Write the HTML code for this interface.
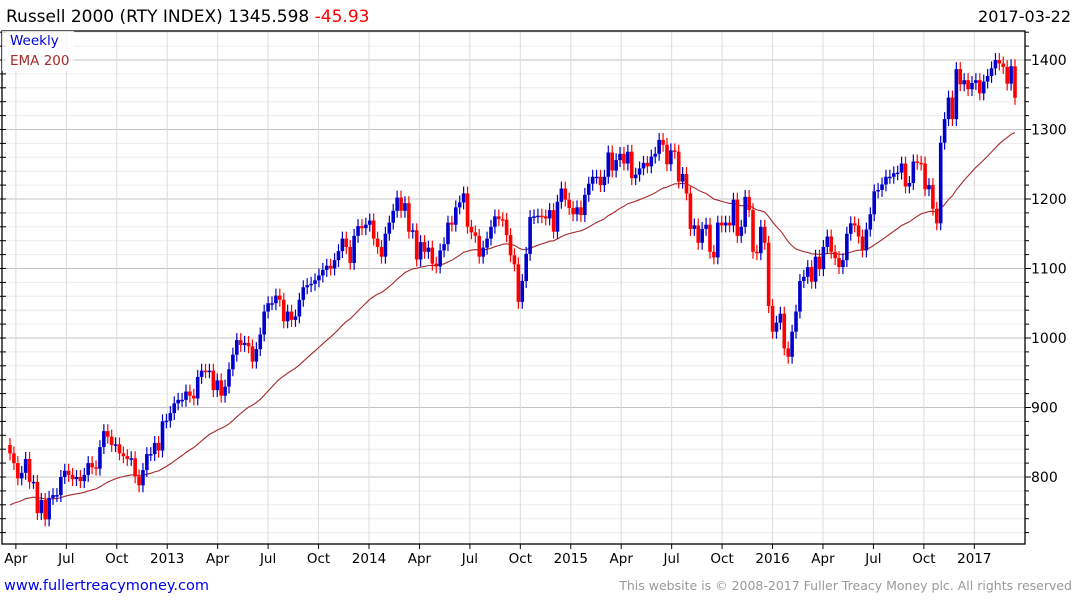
<!DOCTYPE html>
<html><head><meta charset="utf-8">
<style>
body{margin:0;background:#fff;}
svg{display:block;font-family:"DejaVu Sans","Liberation Sans",sans-serif;}
</style></head>
<body>
<svg id="chart" width="1075" height="600">
<text x="6" y="22" font-size="17" fill="#000">Russell 2000 (RTY INDEX) 1345.598 <tspan fill="#ff0000">-45.93</tspan></text>
<text x="1071" y="22" font-size="16" text-anchor="end" fill="#000">2017-03-22</text>
<text x="4" y="590" font-size="14.5" fill="#0000ee">www.fullertreacymoney.com</text>
<text x="1072" y="590" font-size="12.5" text-anchor="end" fill="#999">This website is © 2008-2017 Fuller Treacy Money plc. All rights reserved</text>
<g id="grid"></g><g id="marks"></g><g id="axes"></g>
<rect x="2" y="31" width="72" height="40" fill="#fff" opacity="0.8"/>
<text x="10" y="45" font-size="13.5" fill="#0000dd">Weekly</text>
<text x="10" y="65" font-size="13.5" fill="#a52a2a">EMA 200</text>
</svg>
<script>
const closes=[834,820,798,806,826,793,793,748,767,739,770,774,774,800,809,803,797,800,794,803,820,814,812,843,866,858,846,847,834,830,826,827,801,788,810,833,833,849,838,880,881,892,906,911,911,923,917,913,944,953,952,953,925,939,917,930,955,976,997,990,993,988,966,984,1005,1038,1050,1050,1061,1055,1024,1038,1026,1031,1055,1073,1076,1078,1083,1090,
1098,1104,1100,1112,
1125,1143,1131,1108,1147,1161,1158,1163,1169,1143,1131,1117,1150,1166,1183,1202,1183,1194,1153,1155,1113,1138,1124,1130,1107,1103,1126,1135,1166,1163,1188,1195,1208,1160,1152,1147,1117,1130,1143,1160,1175,1171,1170,1148,1119,1106,1052,1082,1121,1174,1175,1176,1175,1172,1184,1153,1196,1215,1199,1187,1178,1188,1177,1206,1222,1232,1232,1220,1232,1267,1241,1256,1265,1251,1268,1230,1235,1244,1252,1247,1261,1265,1285,1278,1250,1270,1268,1225,1236,1208,
1157,1162,1137,1157,1163,1124,1116,1166,1162,1166,1162,1199,1147,1160,1203,1184,1124,1122,1160,1137,1046,1009,1022,1035,985,973,1009,1038,1082,1088,1102,1081,1117,1099,1131,1146,1124,1115,1102,1112,1150,1165,1162,1146,1126,1156,1178,1211,1213,1221,1232,1232,1237,1238,1251,1218,1223,1254,1252,1251,1214,1220,1186,1165,1281,1315,1346,1315,1387,1365,1371,1358,1367,1371,1352,1369,1377,1388,1400,1395,1390,1366,1391,1345.6];
const firstOpen=846;
const emaSeed=756;
const emaPeriod=42;
const yTicks=[800,900,1000,1100,1200,1300,1400];
const xTickLabels=["Apr","Jul","Oct","2013","Apr","Jul","Oct","2014","Apr","Jul","Oct","2015","Apr","Jul","Oct","2016","Apr","Jul","Oct","2017"];
const xTickWeeks=[1,14,27,40,53,66,79,92,105,118,131,144,157,170,183,196,209,222,235,248];

const NS="http://www.w3.org/2000/svg";
const L=2,R=1025,T=31,B=544;
const X0=10,X1=1015;
const n=closes.length;
const step=(X1-X0)/(n-1);
function xs(i){return X0+i*step;}
function xw(w){return X0+w*((X1-X0)/259);}
function ys(v){return 60+(1400-v)*0.695;}
function el(tag,attrs,parent){const e=document.createElementNS(NS,tag);for(const k in attrs)e.setAttribute(k,attrs[k]);parent.appendChild(e);return e;}
const grid=document.getElementById('grid'),marks=document.getElementById('marks'),axes=document.getElementById('axes');

for(let v=720;v<=1440;v+=20){const y=ys(v);if(y<T||y>B)continue;
 const g=el('line',{x1:L,x2:R,y1:y,y2:y,stroke:v%100===0?'#c4c4c4':'#ececec','stroke-width':1},grid);
 
 
 const t=el('line',{x1:R,x2:R+(v%100===0?6:4),y1:y,y2:y,stroke:'#000'},axes);
 
 
 const t2=el('line',{x1:L-2,x2:L+4,y1:y,y2:y,stroke:'#000'},axes);
 
 
}
yTicks.forEach(v=>{
 const t=el('text',{x:1031,y:ys(v)+5,'font-size':14,fill:'#000'},axes);t.textContent=v;
 
 
});
xTickWeeks.forEach((w,i)=>{
 const x=xw(w)+2;
 const g=el('line',{x1:x,x2:x,y1:T,y2:B,stroke:'#dcdcdc'},grid);
 
 
 const tk=el('line',{x1:x,x2:x,y1:B,y2:B+5,stroke:'#000'},axes);
 
 
 const t=el('text',{x:x,y:563,'font-size':13.5,'text-anchor':'middle',fill:'#000'},axes);t.textContent=xTickLabels[i];
 
 
});
const fr=el('rect',{x:L,y:T,width:R-L,height:B-T,fill:'none',stroke:'#000','stroke-width':1.3},axes);



let ema=emaSeed;const a=2/(emaPeriod+1);let pts=[];
closes.forEach((c,i)=>{ema=ema+a*(c-ema);pts.push(xs(i).toFixed(1)+','+ys(ema).toFixed(1));});
const pl=el('polyline',{points:pts.join(' '),fill:'none',stroke:'#a52a2a','stroke-width':1.1},marks);



closes.forEach((c,i)=>{
 const o=i===0?firstOpen:closes[i-1];
 const up=c>=o;const col=up?'#0000cc':'#ff0000';
 const hi=Math.max(o,c)+10,lo=Math.min(o,c)-10;
 const x=xs(i);
 const w=el('line',{x1:x,x2:x,y1:ys(hi),y2:ys(lo),stroke:col,'stroke-width':1.2},marks);
 
 
 const top=ys(Math.max(o,c)),bot=ys(Math.min(o,c));
 const r=el('rect',{x:x-1.8,y:top,width:3.6,height:Math.max(1.5,bot-top),fill:col},marks);
 
 
});
</script>
</body></html>
